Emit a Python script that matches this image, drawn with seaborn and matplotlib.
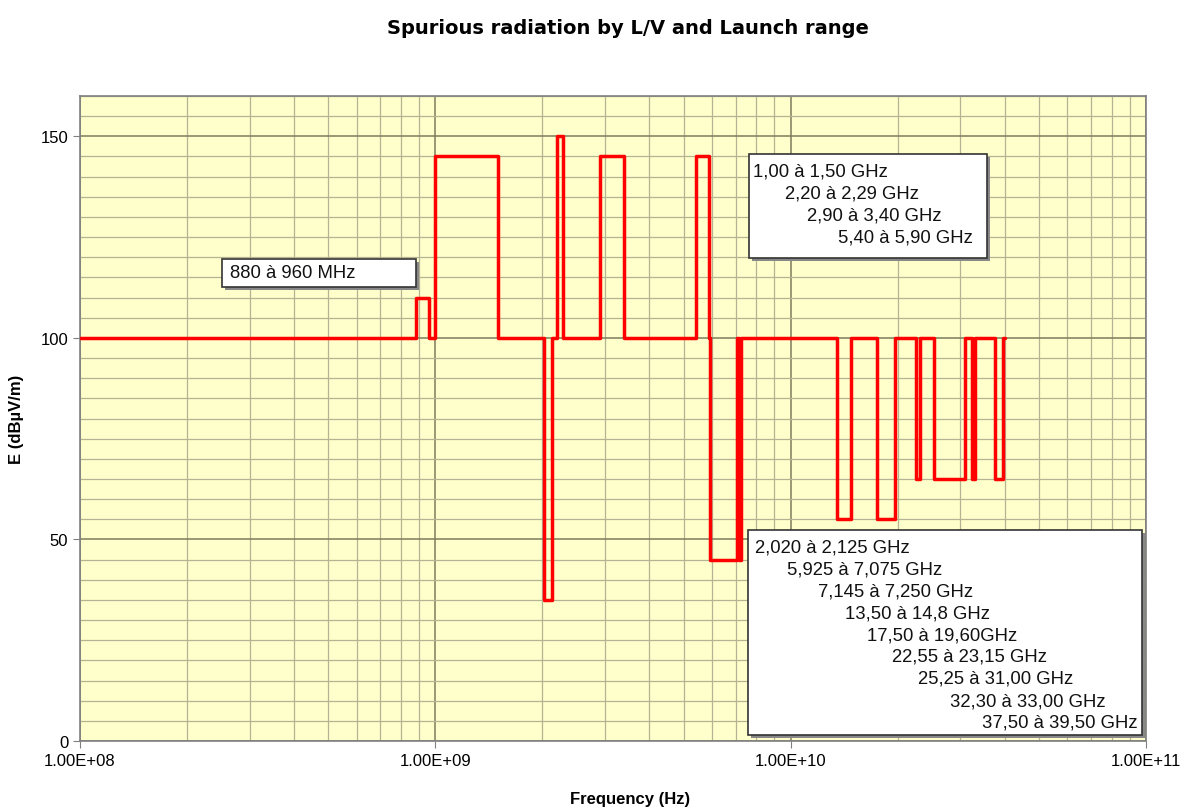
import matplotlib
matplotlib.use("Agg")
import numpy as np
import pandas as pd
import matplotlib.pyplot as plt
import seaborn as sns
from matplotlib.ticker import FuncFormatter, LogLocator, MultipleLocator
from matplotlib.patches import Rectangle

# band edges (Hz) and field strength limit (dBuV/m) starting at each edge
freq_hz = [1.0e8, 0.88e9, 0.96e9, 1.0e9, 1.5e9, 2.02e9, 2.125e9, 2.2e9, 2.29e9,
           2.9e9, 3.4e9, 5.4e9, 5.9e9, 5.925e9, 7.075e9, 7.145e9, 7.25e9,
           13.5e9, 14.8e9, 17.5e9, 19.6e9, 22.55e9, 23.15e9, 25.25e9, 31.0e9,
           32.3e9, 33.0e9, 37.5e9, 39.5e9, 40.0e9]
level_db = [100, 110, 100, 145, 100, 35, 100, 150, 100,
            145, 100, 145, 100, 45, 100, 45, 100,
            55, 100, 55, 100, 65, 100, 65, 100,
            65, 100, 65, 100, 100]

box_low = ["880 à 960 MHz"]
box_high = ["1,00 à 1,50 GHz", "2,20 à 2,29 GHz", "2,90 à 3,40 GHz", "5,40 à 5,90 GHz"]
box_bottom = ["2,020 à 2,125 GHz", "5,925 à 7,075 GHz", "7,145 à 7,250 GHz",
              "13,50 à 14,8 GHz", "17,50 à 19,60GHz", "22,55 à 23,15 GHz",
              "25,25 à 31,00 GHz", "32,30 à 33,00 GHz", "37,50 à 39,50 GHz"]

df = pd.DataFrame({"freq": freq_hz, "E": level_db})

sns.set_style("white")
plt.rcParams['font.family'] = ['Liberation Sans', 'DejaVu Sans']
plt.rcParams['text.color'] = 'black'
plt.rcParams['axes.labelcolor'] = 'black'
plt.rcParams['xtick.color'] = '#808080'
plt.rcParams['ytick.color'] = '#808080'
plt.rcParams['xtick.labelcolor'] = 'black'
plt.rcParams['ytick.labelcolor'] = 'black'

W, H = 1200, 812
fig = plt.figure(figsize=(W / 100, H / 100), dpi=100)
ax = fig.add_axes([80 / W, 1 - 742 / H, (1146 - 80) / W, (742 - 97) / H])
ax.set_facecolor("#FFFFCC")

sns.lineplot(data=df, x="freq", y="E", ax=ax, color="#FF0000", linewidth=2.5,
             drawstyle="steps-post", estimator=None, sort=False, zorder=5)

ax.set_xscale("log")
ax.set_xlim(1e8, 1e11)
ax.set_ylim(0, 160)
ax.xaxis.set_major_locator(LogLocator(base=10, numticks=10))
ax.xaxis.set_minor_locator(LogLocator(base=10, subs=np.arange(2, 10), numticks=20))
ax.xaxis.set_major_formatter(FuncFormatter(lambda v, p: f"{v:.2E}"))
ax.yaxis.set_major_locator(MultipleLocator(50))
ax.yaxis.set_minor_locator(MultipleLocator(5))

ax.grid(which="major", color="#7c7c5c", linewidth=1.1, zorder=1)
ax.grid(which="minor", color="#b4b494", linewidth=0.9, zorder=1)
ax.set_axisbelow(True)
ax.tick_params(which="major", direction="out", length=5, labelsize=12,
               left=True, bottom=True)
ax.tick_params(which="minor", length=0)
for s in ax.spines.values():
    s.set_color("#808080")
    s.set_linewidth(1.2)

ax.set_xlabel("Frequency (Hz)", fontsize=12, fontweight="bold")
ax.xaxis.set_label_coords((630 - 80) / 1066, (742 - 792) / 645)
ax.set_ylabel("E (dBµV/m)", fontsize=12, fontweight="bold", labelpad=12)
fig.text(628 / W, 1 - 28 / H, "Spurious radiation by L/V and Launch range",
         fontsize=14, fontweight="bold", family="DejaVu Sans",
         ha="center", va="center")


def px(x, y):
    return x / W, 1 - y / H


def draw_box(x0, y0, x1, y1):
    sx, sy = px(x0 + 3, y1 + 3)
    fig.add_artist(Rectangle((sx, sy), (x1 - x0) / W, (y1 - y0) / H,
                             transform=fig.transFigure, facecolor="#888888",
                             edgecolor="none", zorder=9))
    bx, by = px(x0, y1)
    fig.add_artist(Rectangle((bx, by), (x1 - x0) / W, (y1 - y0) / H,
                             transform=fig.transFigure, facecolor="white",
                             edgecolor="#333333", linewidth=1.2, zorder=10))


def draw_lines(lines, xs, ys):
    for t, x, y in zip(lines, xs, ys):
        fx, fy = px(x, y)
        fig.text(fx, fy, t, fontsize=13.3, va="center", ha="left", color="#111111",
                 zorder=11)


draw_box(222, 260, 416, 288)
draw_lines(box_low, [230], [274])

draw_box(749, 155, 987, 259)
draw_lines(box_high, [753, 785, 807, 838], [172, 194, 216, 238])

draw_box(748, 531, 1142, 736)
draw_lines(box_bottom, [755, 787, 818, 845, 867, 892, 918, 950, 982],
           [548, 570, 592, 614, 636, 657, 679, 702, 723])

fig.savefig("out.png", dpi=100, facecolor="white")
